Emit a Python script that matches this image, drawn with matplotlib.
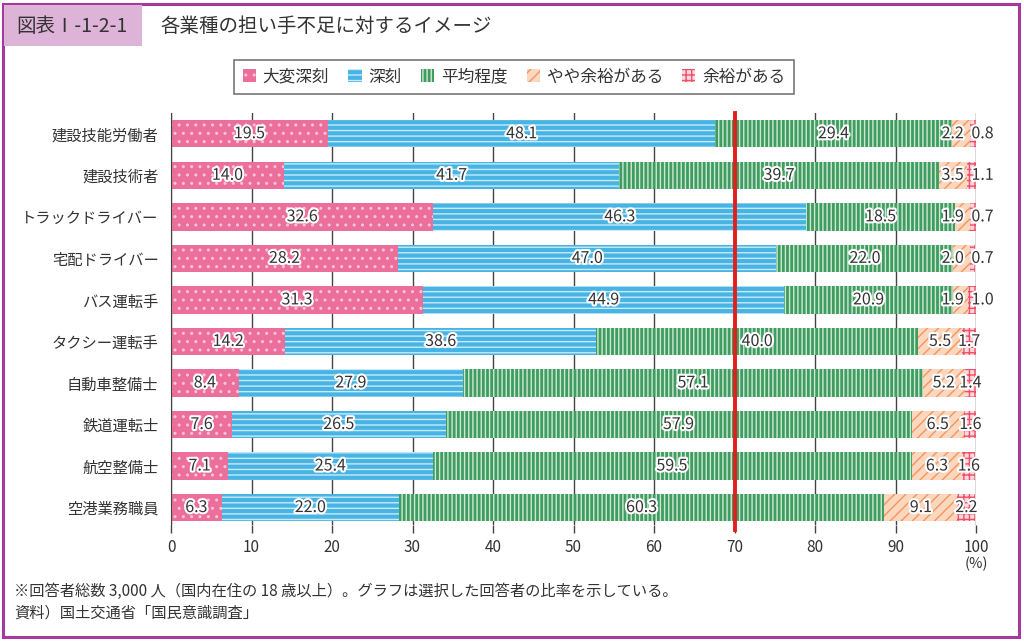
import matplotlib
matplotlib.use("Agg")
import matplotlib.pyplot as plt
import matplotlib.patheffects as pe
from matplotlib.patches import Patch, Rectangle

plt.rcParams['font.family'] = ['Noto Sans CJK JP', 'DejaVu Sans']
plt.rcParams['hatch.linewidth'] = 1.0

# データ
categories = ['建設技能労働者', '建設技術者', 'トラックドライバー', '宅配ドライバー', 'バス運転手',
              'タクシー運転手', '自動車整備士', '鉄道運転士', '航空整備士', '空港業務職員']
very_serious = [19.5, 14.0, 32.6, 28.2, 31.3, 14.2, 8.4, 7.6, 7.1, 6.3]
serious = [48.1, 41.7, 46.3, 47.0, 44.9, 38.6, 27.9, 26.5, 25.4, 22.0]
average = [29.4, 39.7, 18.5, 22.0, 20.9, 40.0, 57.1, 57.9, 59.5, 60.3]
some_room = [2.2, 3.5, 1.9, 2.0, 1.9, 5.5, 5.2, 6.5, 6.3, 9.1]
room = [0.8, 1.1, 0.7, 0.7, 1.0, 1.7, 1.4, 1.6, 1.6, 2.2]
series_names = ['大変深刻', '深刻', '平均程度', 'やや余裕がある', '余裕がある']
xticks = [0, 10, 20, 30, 40, 50, 60, 70, 80, 90, 100]

# 見た目 (色, ハッチ)
styles = [
    dict(facecolor='#ec6e9a', edgecolor='#f8c6d8', hatch='..'),
    dict(facecolor='#47b4e4', edgecolor='#c8eaf9', hatch='---'),
    dict(facecolor='#3f9d60', edgecolor='#cfe8d6', hatch='||||'),
    dict(facecolor='#fcd7bf', edgecolor='#f3965c', hatch='///'),
    dict(facecolor='#fcd8dd', edgecolor='#ef4f68', hatch='+++'),
]

fig = plt.figure(figsize=(10.24, 6.41), dpi=100)

# 外枠とタイトル
fig.patches.append(Rectangle((3 / 1024, 4 / 641), 1016 / 1024, 633 / 641, transform=fig.transFigure,
                             fill=False, edgecolor='#a8389f', linewidth=2.2, zorder=0))
fig.patches.append(Rectangle((4 / 1024, 1 - 46 / 641), 138 / 1024, 41 / 641, transform=fig.transFigure,
                             facecolor='#ddb3d7', edgecolor='none', zorder=0))
fig.text(16 / 1024, 1 - 26 / 641, '図表Ⅰ-1-2-1', fontsize=14, color='#333333', va='center')
fig.text(160 / 1024, 1 - 26 / 641, '各業種の担い手不足に対するイメージ', fontsize=14, color='#333333', va='center')

ax = fig.add_axes([171 / 1024, 1 - 525 / 641, 805 / 1024, 412 / 641])
ypos = list(range(len(categories)))
data = [very_serious, serious, average, some_room, room]
txt_fx = [pe.withStroke(linewidth=3, foreground='white')]

left = [0.0] * len(categories)
for k, vals in enumerate(data):
    ax.barh(ypos, vals, height=0.66, left=left, linewidth=0, zorder=2, **styles[k])
    for i, v in enumerate(vals):
        cx = left[i] + v / 2
        if k == 3:
            cx = min(cx, 97.1)
        if k == 4 and v < 1.2:
            cx = 100.8
        ax.text(cx, i, f'{v:.1f}', ha='center', va='center', fontsize=11.5, color='#333333',
                path_effects=txt_fx, zorder=5)
    left = [l + v for l, v in zip(left, vals)]

# 70% の赤線
ax.axvline(70, ymin=-0.012, ymax=1, color='#e0201e', linewidth=2.8, zorder=4, clip_on=False)

ax.set_xlim(0, 100)
ax.set_ylim(9.42, -0.5)
ax.set_yticks(ypos)
ax.set_yticklabels(categories, fontsize=11, color='#333333')
ax.tick_params(axis='y', length=0, pad=9)
ax.set_xticks(xticks)
ax.set_xticklabels([str(t) for t in xticks], fontsize=11, color='#333333')
ax.tick_params(axis='x', length=6, width=1, color='#444444', pad=4)
ax.grid(axis='x', color='#444444', linewidth=1, zorder=0)
ax.set_axisbelow(True)
for s in ['top', 'right', 'bottom']:
    ax.spines[s].set_visible(False)
ax.spines['left'].set_color('#444444')
fig.text(976 / 1024, 1 - 564 / 641, '(%)', fontsize=10.5, color='#333333', ha='center', va='center')

# 凡例
handles = [Patch(label=n, linewidth=0, **st) for n, st in zip(series_names, styles)]
leg = fig.legend(handles=handles, loc='center', bbox_to_anchor=(514 / 1024, 1 - 77 / 641), ncol=5,
                 fontsize=12, frameon=True, fancybox=False, edgecolor='#555555',
                 handlelength=0.8, handleheight=0.8, handletextpad=0.4, columnspacing=1.15,
                 borderpad=0.5)
leg.get_frame().set_linewidth(1.2)
for t in leg.get_texts():
    t.set_color('#333333')

# 注記
fig.text(14 / 1024, 1 - 591 / 641, '※回答者総数 3,000 人（国内在住の 18 歳以上）。グラフは選択した回答者の比率を示している。',
         fontsize=11, color='#333333', va='center')
fig.text(14 / 1024, 1 - 613 / 641, '資料）国土交通省「国民意識調査」', fontsize=11, color='#333333', va='center')

fig.savefig('out.png', dpi=100)
